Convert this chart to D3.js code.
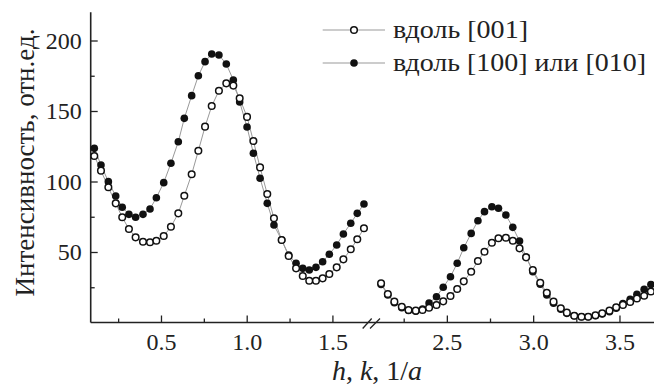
<!DOCTYPE html>
<html>
<head>
<meta charset="utf-8">
<script src="https://cdn.jsdelivr.net/npm/d3@7"></script>
<style>
  html, body { margin: 0; padding: 0; background: #fff; }
  svg text { font-family: "Liberation Serif", "Times New Roman", Times, "DejaVu Serif", serif !important; }
</style>
</head>
<body>
<div id="chart"></div>
<script>
// Intensity profiles, broken x axis (two segments)
const hLeft = [0.111, 0.150, 0.193, 0.236, 0.274, 0.313, 0.352, 0.395, 0.436, 0.473,
               0.516, 0.558, 0.601, 0.636, 0.679, 0.718, 0.757, 0.796, 0.838, 0.881,
               0.922, 0.959, 1.002, 1.039, 1.078, 1.120, 1.159, 1.204, 1.245, 1.288,
               1.327, 1.365, 1.404, 1.443, 1.482, 1.525, 1.564, 1.607, 1.645, 1.684];
const open001Left = [118.1, 107.7, 95.9, 84.5, 74.6, 66.3, 60.4, 57.3, 56.9, 58.0,
                     61.3, 67.9, 77.4, 89.9, 105.1, 121.8, 138.9, 153.5, 164.4, 169.6,
                     168.0, 159.0, 145.8, 128.7, 110.0, 91.1, 73.9, 58.5, 47.2, 38.4,
                     33.0, 29.6, 29.6, 31.3, 34.4, 39.1, 44.8, 51.9, 59.0, 66.8];
const filled100Left = [123.5, 111.7, 99.9, 89.7, 81.7, 76.7, 74.6, 76.7, 80.5, 88.5,
                       99.2, 112.9, 128.2, 144.8, 160.9, 175.0, 185.0, 190.4, 189.7, 183.3,
                       172.0, 156.4, 138.6, 120.0, 102.3, 84.5, 69.1, 58.5, 47.9, 42.0,
                       38.4, 37.2, 39.1, 43.1, 48.4, 55.0, 62.8, 70.4, 77.4, 84.0];

const hRight = [2.119, 2.158, 2.196, 2.239, 2.278, 2.320, 2.359, 2.397, 2.440, 2.479,
                2.521, 2.560, 2.598, 2.641, 2.680, 2.718, 2.761, 2.799, 2.842, 2.882,
                2.921, 2.959, 2.998, 3.041, 3.079, 3.118, 3.160, 3.195, 3.238, 3.280,
                3.319, 3.361, 3.400, 3.442, 3.481, 3.520, 3.562, 3.601, 3.643, 3.682];
const open001Right = [27.8, 20.2, 14.8, 11.2, 8.9, 8.4, 8.9, 10.5, 12.4, 15.0,
                      18.8, 23.8, 29.2, 36.0, 43.6, 50.2, 56.6, 59.7, 60.1, 58.0,
                      52.6, 46.2, 37.2, 28.2, 21.1, 14.8, 10.1, 7.0, 4.8, 4.1,
                      4.1, 5.1, 6.5, 8.4, 10.8, 12.5, 14.5, 17.0, 19.0, 22.0];
const filled100Right = [27.0, 19.5, 14.0, 10.5, 8.5, 8.0, 9.5, 13.8, 18.3, 25.0,
                        32.5, 42.0, 53.0, 63.2, 72.2, 78.6, 82.1, 81.0, 76.2, 67.5,
                        57.8, 46.5, 36.0, 27.1, 19.5, 13.6, 9.4, 6.5, 4.8, 4.1,
                        4.1, 4.8, 6.0, 7.7, 10.1, 13.5, 16.5, 20.0, 23.5, 27.0];

const yTicks = [50, 100, 150, 200];
const yMinor = [25, 75, 125, 175];
const xTicksLeft = [0.5, 1.0, 1.5];
const xMinorLeft = [0.25, 0.75, 1.25];
const xTicksRight = [2.5, 3.0, 3.5];
const xMinorRight = [2.25, 2.75, 3.25];
const legendLabels = ['вдоль [001]', 'вдоль [100] или [010]'];

const W = 654, H = 386;
const x0 = 90.7, yBase = 322.5;
const FONT = '"Liberation Serif", "Times New Roman", Times, "DejaVu Serif", serif';

const svg = d3.select('#chart').append('svg')
    .attr('width', W).attr('height', H)
    .attr('font-family', FONT);

const y = d3.scaleLinear().domain([0, 220]).range([yBase, 12.3]);
const xL = d3.scaleLinear().domain([0.09, 1.70]).range([x0, 366.7]);
const xR = d3.scaleLinear().domain([2.10, 3.70]).range([377.8, 654]);

// axis lines
svg.append('line')
    .attr('x1', x0).attr('x2', W).attr('y1', yBase).attr('y2', yBase)
    .attr('stroke', '#222').attr('stroke-width', 1.6);
svg.append('line')
    .attr('x1', x0).attr('x2', x0).attr('y1', yBase).attr('y2', y(220))
    .attr('stroke', '#222').attr('stroke-width', 1.6);

function styleAxis(g) {
    g.attr('font-family', FONT);
    g.select('.domain').remove();
    g.selectAll('line').attr('stroke', '#222').attr('stroke-width', 1.3);
    g.selectAll('text').attr('fill', '#222').attr('font-size', 24);
}

// y axis
svg.append('g').attr('transform', `translate(${x0},0)`)
    .call(d3.axisLeft(y).tickValues(yTicks).tickSize(-7).tickPadding(9).tickFormat(d3.format('d')))
    .call(styleAxis);
svg.append('g').attr('transform', `translate(${x0},0)`)
    .call(d3.axisLeft(y).tickValues(yMinor).tickSize(-4).tickFormat(''))
    .call(styleAxis);

// x axes (two segments)
[[xL, xTicksLeft, xMinorLeft], [xR, xTicksRight, xMinorRight]].forEach(([sc, major, minor]) => {
    svg.append('g').attr('transform', `translate(0,${yBase})`)
        .call(d3.axisBottom(sc).tickValues(major).tickSize(-7).tickPadding(10).tickFormat(d3.format('.1f')))
        .call(styleAxis);
    svg.append('g').attr('transform', `translate(0,${yBase})`)
        .call(d3.axisBottom(sc).tickValues(minor).tickSize(-4).tickFormat(''))
        .call(styleAxis);
});

// break marks
[[362.7, 371.7], [370, 380]].forEach(([a, b]) => {
    svg.append('line')
        .attr('x1', a).attr('y1', yBase + 6).attr('x2', b).attr('y2', yBase - 4)
        .attr('stroke', '#222').attr('stroke-width', 1.3);
});

// series
const segments = [
    {sc: xL, h: hLeft, open: open001Left, filled: filled100Left},
    {sc: xR, h: hRight, open: open001Right, filled: filled100Right}
];

segments.forEach(seg => {
    const line = d3.line().x((d, i) => seg.sc(seg.h[i])).y(d => y(d));
    [seg.filled, seg.open].forEach(vals => {
        svg.append('path').datum(vals)
            .attr('d', line)
            .attr('fill', 'none')
            .attr('stroke', '#999')
            .attr('stroke-width', 1);
    });
    svg.append('g').selectAll('circle')
        .data(seg.filled)
        .enter().append('circle')
        .attr('cx', (d, i) => seg.sc(seg.h[i]))
        .attr('cy', d => y(d))
        .attr('r', 3.8)
        .attr('fill', '#111');
    svg.append('g').selectAll('circle')
        .data(seg.open)
        .enter().append('circle')
        .attr('cx', (d, i) => seg.sc(seg.h[i]))
        .attr('cy', d => y(d))
        .attr('r', 3.3)
        .attr('fill', '#fff')
        .attr('stroke', '#111')
        .attr('stroke-width', 1.5);
});

// legend
const legendWidths = [135, 253];
const legend = svg.append('g');
legendLabels.forEach((label, i) => {
    const ly = 30 + i * 33;
    legend.append('line')
        .attr('x1', 322.7).attr('x2', 385).attr('y1', ly).attr('y2', ly)
        .attr('stroke', '#999').attr('stroke-width', 1);
    if (i === 0) {
        legend.append('circle').attr('cx', 354).attr('cy', ly).attr('r', 3.3)
            .attr('fill', '#fff').attr('stroke', '#111').attr('stroke-width', 1.5);
    } else {
        legend.append('circle').attr('cx', 354).attr('cy', ly).attr('r', 3.8)
            .attr('fill', '#111');
    }
    legend.append('text')
        .attr('x', 393).attr('y', ly + 8)
        .attr('font-size', 26)
        .attr('textLength', legendWidths[i])
        .attr('lengthAdjust', 'spacingAndGlyphs')
        .attr('fill', '#222')
        .text(label);
});

// axis titles
svg.append('text')
    .attr('transform', 'translate(33.5,162.5) rotate(-90)')
    .attr('text-anchor', 'middle')
    .attr('font-size', 27)
    .attr('fill', '#222')
    .text('Интенсивность, отн.ед.');

const xt = svg.append('text')
    .attr('x', 377).attr('y', 380)
    .attr('text-anchor', 'middle')
    .attr('font-size', 28)
    .attr('fill', '#222');
xt.append('tspan').attr('font-style', 'italic').text('h');
xt.append('tspan').text(', ');
xt.append('tspan').attr('font-style', 'italic').text('k');
xt.append('tspan').text(', 1/');
xt.append('tspan').attr('font-style', 'italic').text('a');
</script>
</body>
</html>
